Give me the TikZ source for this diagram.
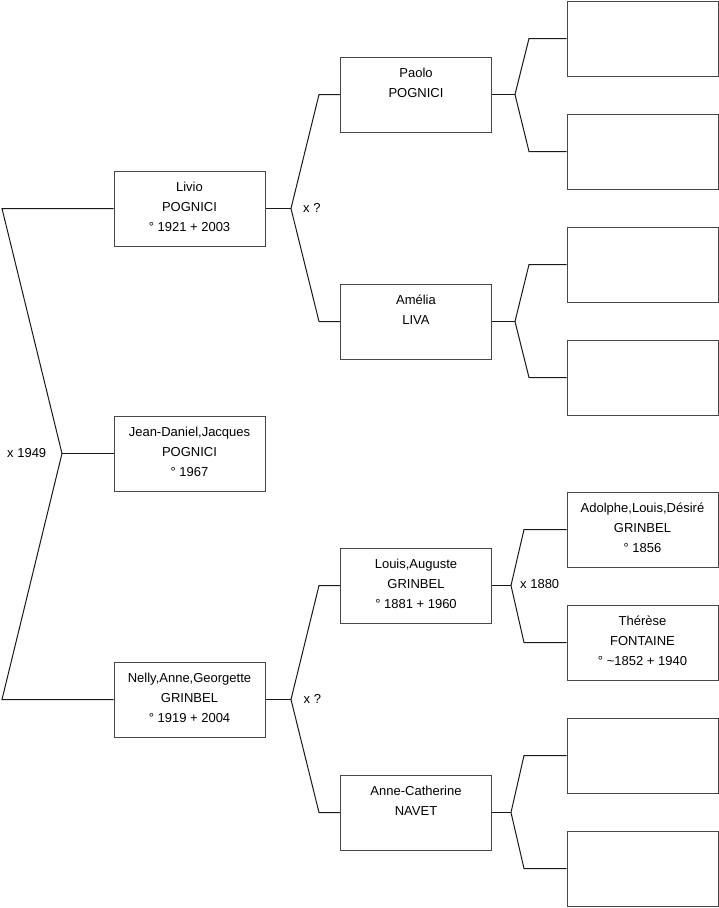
\documentclass[tikz,border=0pt]{standalone}
\usepackage{fontspec}
\setmainfont{Liberation Sans}
\begin{document}
\begin{tikzpicture}[x=1pt,y=-1pt,
  box/.style={draw=black!72,line width=1pt,rectangle,minimum width=151pt,minimum height=75pt,inner sep=0pt},
  txt/.style={anchor=base,inner sep=0pt,font=\fontsize{13pt}{15pt}\selectfont},
  lbl/.style={anchor=base west,inner sep=0pt,font=\fontsize{13pt}{15pt}\selectfont},
  conn/.style={draw=black!90,line width=1pt}]
\useasboundingbox (0,0) rectangle (719,908);
\newcommand\pbox[6]{%
  \node[box] (#1) at (#2,#3) {};
  \node[txt] (#1-a) at ([yshift=-21pt]#1.north) {#4};
  \node[txt] (#1-b) at ([yshift=-41pt]#1.north) {#5};
  \node[txt] (#1-c) at ([yshift=-61pt]#1.north) {#6};
}
\newcommand\ebox[3]{\node[box] (#1) at (#2,#3) {};}
% column 1
\pbox{livio}{189.5}{208.5}{Livio}{POGNICI}{° 1921 + 2003}
\pbox{root}{189.5}{453.5}{Jean-Daniel,Jacques}{POGNICI}{° 1967}
\pbox{nelly}{189.5}{699.5}{Nelly,Anne,Georgette}{GRINBEL}{° 1919 + 2004}
% column 2
\pbox{paolo}{416}{94.5}{Paolo}{POGNICI}{}
\pbox{amelia}{416}{321.5}{Amélia}{LIVA}{}
\pbox{louis}{416}{585.5}{Louis,Auguste}{GRINBEL}{° 1881 + 1960}
\pbox{anne}{416}{812.5}{Anne-Catherine}{NAVET}{}
% column 3
\ebox{p1}{642.5}{38.5}
\ebox{p2}{642.5}{151.5}
\ebox{a1}{642.5}{264.5}
\ebox{a2}{642.5}{377.5}
\pbox{adolphe}{642.5}{529.5}{Adolphe,Louis,Désiré}{GRINBEL}{° 1856}
\pbox{therese}{642.5}{642.5}{Thérèse}{FONTAINE}{° \textasciitilde1852 + 1940}
\ebox{n1}{642.5}{755.5}
\ebox{n2}{642.5}{868.5}
% coordinates
\coordinate (vroot) at (62,453.5);
\coordinate (broot) at (2,0);
\coordinate (vlivio) at (291,208.5);
\coordinate (vnelly) at (291,699.5);
\coordinate (b2) at (319,0);
\coordinate (vpaolo) at (515,94.5);
\coordinate (vamelia) at (515,321.5);
\coordinate (vlouis) at (511,585.5);
\coordinate (vanne) at (511,812.5);
\coordinate (b3u) at (529,0);
\coordinate (b3l) at (524,0);
% root connectors
\draw[conn] (root.west) -- (vroot);
\draw[conn] (vroot) -- (livio.west -| broot) -- (livio.west);
\draw[conn] (vroot) -- (nelly.west -| broot) -- (nelly.west);
% Livio
\draw[conn] (livio.east) -- (vlivio);
\draw[conn] (vlivio) -- (paolo.west -| b2) -- (paolo.west);
\draw[conn] (vlivio) -- (amelia.west -| b2) -- (amelia.west);
% Nelly
\draw[conn] (nelly.east) -- (vnelly);
\draw[conn] (vnelly) -- (louis.west -| b2) -- (louis.west);
\draw[conn] (vnelly) -- (anne.west -| b2) -- (anne.west);
% Paolo
\draw[conn] (paolo.east) -- (vpaolo);
\draw[conn] (vpaolo) -- (p1.west -| b3u) -- (p1.west);
\draw[conn] (vpaolo) -- (p2.west -| b3u) -- (p2.west);
% Amelia
\draw[conn] (amelia.east) -- (vamelia);
\draw[conn] (vamelia) -- (a1.west -| b3u) -- (a1.west);
\draw[conn] (vamelia) -- (a2.west -| b3u) -- (a2.west);
% Louis
\draw[conn] (louis.east) -- (vlouis);
\draw[conn] (vlouis) -- (adolphe.west -| b3l) -- (adolphe.west);
\draw[conn] (vlouis) -- (therese.west -| b3l) -- (therese.west);
% Anne
\draw[conn] (anne.east) -- (vanne);
\draw[conn] (vanne) -- (n1.west -| b3l) -- (n1.west);
\draw[conn] (vanne) -- (n2.west -| b3l) -- (n2.west);
% marriage labels
\node[lbl] (m1949) at (7,457) {x 1949};
\node[lbl] (mlivio) at (303,212) {x ?};
\node[lbl] (mnelly) at (303.5,703.5) {x ?};
\node[lbl] (m1880) at (520,588.5) {x 1880};
\end{tikzpicture}
\end{document}
